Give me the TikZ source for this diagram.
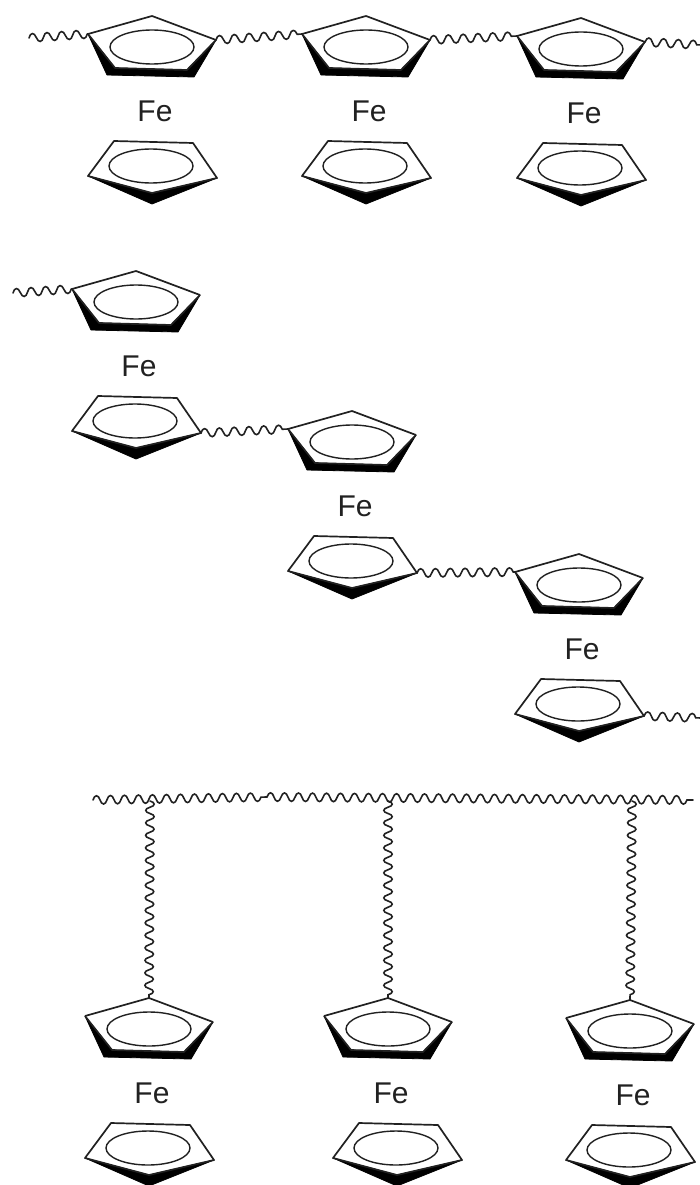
\documentclass[tikz,border=0pt]{standalone}
\usepackage{fontspec}
\setmainfont{Liberation Sans}
\usetikzlibrary{decorations}
\definecolor{ink}{gray}{0.13}
\makeatletter
\pgfdeclaredecoration{roundwave}{up}{
  \state{up}[width=.5\pgfdecorationsegmentlength,next state=down]{
    \pgfpathcurveto
      {\pgfqpoint{.12\pgfdecorationsegmentlength}{1.33\pgfdecorationsegmentamplitude}}
      {\pgfqpoint{.38\pgfdecorationsegmentlength}{1.33\pgfdecorationsegmentamplitude}}
      {\pgfqpoint{.5\pgfdecorationsegmentlength}{0pt}}
  }
  \state{down}[width=.5\pgfdecorationsegmentlength,next state=up]{
    \pgfpathcurveto
      {\pgfqpoint{.12\pgfdecorationsegmentlength}{-1.33\pgfdecorationsegmentamplitude}}
      {\pgfqpoint{.38\pgfdecorationsegmentlength}{-1.33\pgfdecorationsegmentamplitude}}
      {\pgfqpoint{.5\pgfdecorationsegmentlength}{0pt}}
  }
  \state{final}{\pgfpathlineto{\pgfpointdecoratedpathlast}}
}
\makeatother
\tikzset{
  bond/.style={draw=ink,line width=1.7pt,line join=round},
  wedge/.style={fill=black,draw=black,line width=0.8pt,line join=round},
  aromatic/.style={draw=ink,line width=1.4pt,fill=none},
  metal/.style={font=\fontsize{30}{32}\selectfont,text=ink,inner sep=0pt},
  wavy/.style={draw=ink,line width=1.6pt,line cap=round,decorate,
    decoration={roundwave,segment length=#1,amplitude=4.2pt}},
  wavy/.default=14.8pt
}
% name, apex x, apex y, lower ring x shift
\newcommand{\ferrocene}[4]{%
  \begin{scope}[shift={(#2,#3)}]
    \coordinate (#1A) at (0,0);
    \coordinate (#1L) at (-64,18);
    \coordinate (#1R) at (64,24);
    \filldraw[wedge] (-64,18) -- (-45,59) -- (42,61) -- (64,24) -- (35,54) -- (-37,52) -- cycle;
    \draw[bond] (-64,18) -- (0,0) -- (64,24);
    \draw[bond] (-64,18) -- (-37,52) -- (35,54) -- (64,24);
    \draw[aromatic] (0,31) ellipse [x radius=42,y radius=17];
    \node[metal] (#1Fe) at (3,95) {Fe};
    \begin{scope}[xshift=#4]
      \coordinate (#1r) at (65,162);
      \filldraw[wedge] (-64,160) -- (0,188) -- (65,162) -- (0,177) -- cycle;
      \draw[bond] (-64,160) -- (-38,125) -- (41,127) -- (65,162) -- (0,177) -- cycle;
      \draw[aromatic] (-1,150) ellipse [x radius=42,y radius=17];
    \end{scope}
  \end{scope}}
\begin{document}
\begin{tikzpicture}[x=1pt,y=-1pt]
  \useasboundingbox (0,0) rectangle (700,1185);
  \clip (0,0) rectangle (700,1185);
  \fill[white] (0,0) rectangle (700,1185);
  % row 1
  \ferrocene{a}{152}{16}{0}
  \ferrocene{b}{366}{16}{0}
  \ferrocene{c}{581}{18}{0}
  % row 2
  \ferrocene{d}{136}{271}{0}
  \ferrocene{e}{352}{411}{0}
  \ferrocene{f}{579}{554}{0}
  % row 3
  \ferrocene{g}{149}{998}{0}
  \ferrocene{h}{388}{998}{9}
  \ferrocene{i}{630}{1000}{0}
  % free ends
  \coordinate (a0) at (29,38);
  \coordinate (c1) at (701,45);
  \coordinate (d0) at (13,293);
  \coordinate (f1) at (701,718);
  \coordinate (p0) at (93,800);
  \coordinate (pm) at (267,797);
  \coordinate (p1) at (693,800);
  \coordinate (pg) at (150,801);
  \coordinate (ph) at (388,801);
  \coordinate (pi) at (632,801);
  % chains
  \draw[wavy=14.6pt] (a0) -- (aL);
  \draw[wavy] (aR) -- (bL);
  \draw[wavy] (bR) -- (cL);
  \draw[wavy] (cR) -- (c1);
  \draw[wavy=14.6pt] (d0) -- (dL);
  \draw[wavy] (dr) -- (eL);
  \draw[wavy] (er) -- (fL);
  \draw[wavy] (fr) -- (f1);
  \draw[wavy=14pt] (p0) -- (pm);
  \draw[wavy=14pt] (pm) -- (p1);
  \draw[wavy=12.5pt] (pg) -- (gA);
  \draw[wavy=12.5pt] (ph) -- (hA);
  \draw[wavy=12.5pt] (pi) -- (iA);
\end{tikzpicture}
\end{document}
